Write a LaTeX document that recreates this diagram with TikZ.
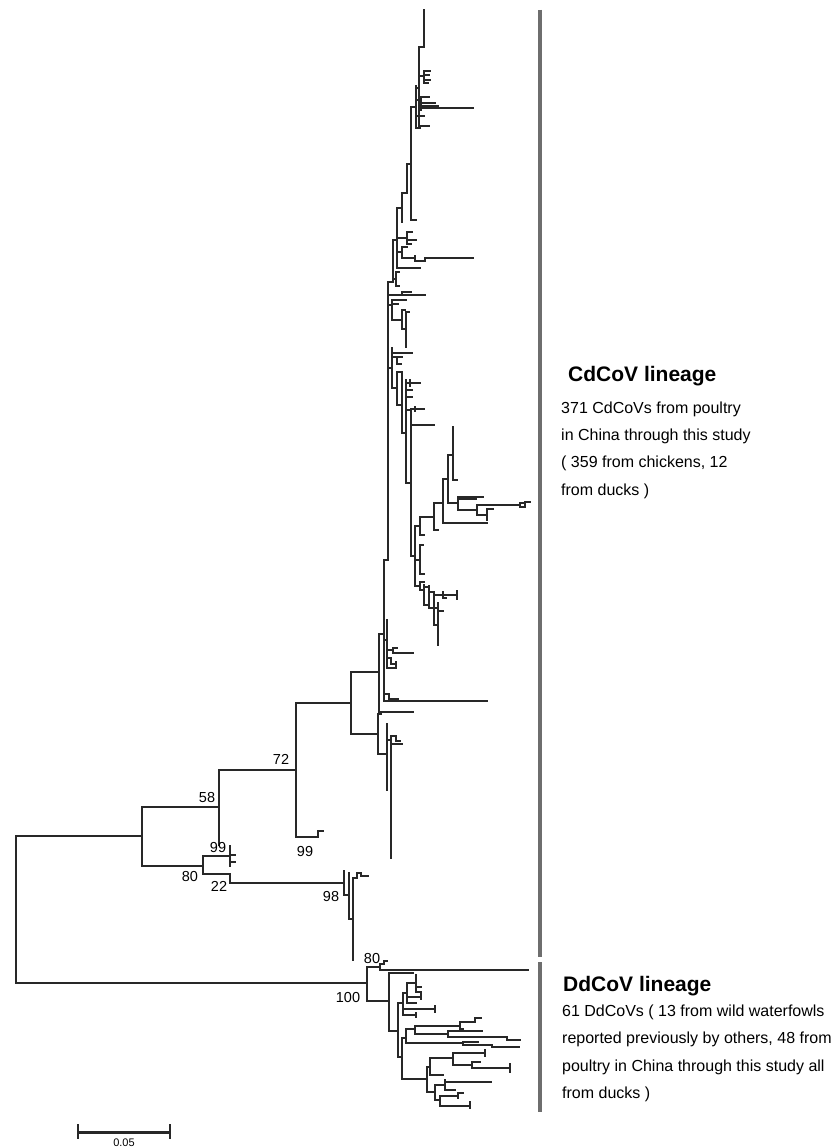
\documentclass[tikz,border=0pt]{standalone}
\usepackage{fontspec}
\setmainfont{Liberation Sans}
\definecolor{treec}{RGB}{40,40,40}
\definecolor{barc}{RGB}{110,110,110}
\newcommand\hv[3]{\draw[tr] (#1,#3) -- (#2,#3);}
\newcommand\vv[3]{\draw[tr] (#1,#2) -- (#1,#3);}
\begin{document}
\begin{tikzpicture}[x=1pt,y=-1pt,
  tr/.style={line width=1.2pt, draw=treec, line cap=rect},
  bar/.style={line width=3.6pt, draw=barc},
  boot/.style={font=\fontsize{14.5}{16}\selectfont, inner sep=0pt, text=black},
  head/.style={font=\bfseries\fontsize{21}{24}\selectfont, anchor=base west, inner sep=0pt},
  body/.style={font=\fontsize{16}{18}\selectfont, anchor=base west, inner sep=0pt}]
\useasboundingbox[fill=white] (0,0) rectangle (832,1148);
% ---------- backbone ----------
\vv{16}{836}{983}
\hv{16}{142}{836}
\vv{142}{807}{866}
\hv{142}{219}{807}
\vv{219}{770}{845}
\hv{219}{296}{770}
\vv{296}{703}{837}
\hv{296}{318}{837}
\vv{318}{831}{837}
\hv{318}{323}{831}
\hv{296}{351}{703}
\vv{351}{672}{734}
\hv{351}{379}{672}
\hv{351}{378}{734}
% 80 / 22 / 98
\hv{142}{203}{866}
\vv{203}{856}{874}
\hv{203}{230}{856}
\vv{230}{846}{866}
\hv{230}{235}{855}
\hv{230}{235}{862}
\hv{203}{230}{874}
\vv{230}{874}{883}
\hv{230}{344}{883}
\vv{344}{871}{895}
\hv{344}{349}{895}
\vv{349}{873}{919}
\hv{349}{353}{919}
\vv{353}{878}{960}
\hv{353}{357}{878}
\vv{357}{873}{878}
\hv{357}{361}{873}
\vv{361}{873}{876}
\hv{361}{368}{876}
% lower branch of CdCoV
\vv{378}{714}{754}
\hv{378}{381}{714}
\hv{378}{387}{754}
\vv{387}{724}{790}
\hv{387}{391}{740}
\vv{391}{736}{858}
\hv{391}{396}{736}
\hv{391}{402}{744}
\vv{396}{736}{741}
\hv{396}{400}{741}
% main CdCoV
\vv{379}{634}{712}
\hv{379}{413}{712}
\hv{379}{384}{634}
\vv{384}{560}{701}
\hv{384}{487}{701}
\hv{384}{389}{694}
\vv{389}{694}{699}
\hv{389}{398}{699}
\vv{387}{620}{668}
\hv{384}{387}{640}
\hv{387}{393}{650}
\vv{393}{648}{653}
\hv{393}{413}{653}
\hv{393}{397}{648}
\hv{387}{391}{658}
\vv{391}{658}{664}
\hv{391}{396}{664}
\vv{396}{662}{666}
\hv{387}{396}{668}
\hv{384}{388}{560}
\vv{388}{282}{560}
% top part
\vv{424}{10}{47}
\hv{419}{424}{47}
\vv{419}{47}{127}
\hv{419}{429}{126}
\hv{419}{424}{76}
\vv{424}{71}{83}
\hv{424}{430}{71}
\hv{424}{429}{75}
\hv{424}{430}{80}
\hv{424}{428}{83}
\hv{416}{419}{88}
\vv{416}{86}{128}
\hv{416}{421}{100}
\vv{421}{97}{110}
\hv{421}{429}{97}
\hv{421}{435}{103}
\hv{421}{438}{106}
\hv{421}{473}{108}
\hv{416}{424}{116}
\hv{416}{420}{128}
\hv{411}{416}{107}
\vv{411}{107}{220}
\hv{411}{416}{220}
\hv{407}{411}{164}
\vv{407}{164}{193}
\hv{402}{407}{193}
\vv{402}{193}{222}
\hv{397}{402}{208}
\vv{397}{208}{268}
\hv{397}{407}{238}
\vv{407}{232}{244}
\hv{407}{412}{232}
\hv{407}{416}{240}
\hv{407}{411}{244}
\hv{397}{402}{252}
\vv{402}{247}{258}
\hv{402}{407}{247}
\hv{402}{415}{258}
\vv{415}{256}{261}
\hv{415}{425}{261}
\vv{425}{258}{261}
\hv{425}{473}{258}
\hv{397}{420}{268}
\hv{393}{397}{240}
\vv{393}{240}{282}
\vv{396}{272}{286}
\hv{393}{396}{279}
\hv{396}{399}{272}
\hv{396}{399}{286}
\hv{388}{393}{282}
\hv{388}{425}{295}
\vv{402}{292}{295}
\hv{402}{411}{292}
\hv{388}{392}{305}
\vv{392}{300}{320}
\hv{392}{406}{300}
\hv{392}{398}{304}
\hv{392}{402}{320}
\vv{402}{310}{329}
\hv{402}{405}{310}
\hv{402}{406}{329}
\vv{406}{312}{347}
\hv{406}{409}{312}
\hv{388}{392}{368}
\vv{392}{348}{388}
\hv{392}{412}{353}
\hv{392}{402}{357}
\vv{397}{357}{364}
\hv{397}{401}{364}
\hv{392}{397}{388}
\vv{397}{372}{405}
\hv{397}{402}{372}
\hv{397}{400}{405}
\vv{402}{372}{433}
\hv{402}{406}{433}
\vv{406}{380}{483}
\hv{406}{410}{383}
\vv{410}{380}{386}
\hv{410}{420}{383}
\hv{406}{412}{390}
\hv{406}{412}{397}
\hv{406}{411}{410}
\vv{411}{410}{555}
\hv{406}{411}{483}
\hv{411}{415}{409}
\vv{415}{407}{411}
\hv{415}{424}{409}
\hv{411}{434}{425}
% clade around 450-530
\vv{453}{427}{480}
\hv{453}{457}{480}
\hv{448}{453}{455}
\vv{448}{455}{503}
\hv{448}{458}{503}
\vv{458}{497}{510}
\hv{458}{483}{497}
\hv{458}{476}{499}
\hv{458}{477}{510}
\vv{477}{505}{515}
\hv{477}{520}{505}
\vv{520}{503}{507}
\hv{520}{525}{503}
\vv{525}{502}{505}
\hv{525}{530}{502}
\hv{520}{525}{507}
\hv{477}{487}{515}
\vv{487}{509}{520}
\hv{487}{493}{509}
\hv{443}{448}{479}
\vv{443}{479}{523}
\hv{443}{487}{523}
\hv{434}{443}{503}
\vv{434}{503}{530}
\hv{434}{438}{530}
\hv{420}{434}{517}
\vv{420}{517}{535}
\hv{420}{424}{535}
\hv{415}{420}{526}
\vv{415}{526}{586}
\hv{411}{415}{556}
\hv{415}{420}{560}
\vv{420}{545}{574}
\hv{420}{423}{545}
\hv{420}{424}{574}
% lower cluster
\hv{415}{420}{586}
\vv{420}{582}{590}
\hv{420}{424}{582}
\hv{420}{424}{590}
\vv{424}{585}{605}
\hv{424}{429}{587}
\vv{429}{586}{608}
\hv{429}{434}{592}
\vv{434}{592}{625}
\hv{434}{443}{595}
\vv{443}{592}{598}
\hv{443}{457}{595}
\vv{457}{591}{599}
\hv{443}{446}{598}
\hv{429}{438}{608}
\vv{438}{603}{645}
\hv{438}{443}{611}
\hv{424}{427}{605}
\hv{434}{436}{625}
% ---------- DdCoV ----------
\hv{16}{367}{983}
\vv{367}{967}{1001}
\hv{367}{380}{967}
\vv{380}{964}{970}
\hv{380}{384}{964}
\vv{384}{961}{964}
\hv{384}{387}{961}
\hv{380}{528}{970}
\hv{367}{389}{1001}
\vv{389}{973}{1031}
\hv{389}{413}{973}
\hv{389}{398}{1031}
\vv{398}{1003}{1057}
\hv{398}{403}{1003}
\vv{403}{993}{1015}
\hv{403}{407}{993}
\vv{407}{983}{1003}
\hv{407}{416}{983}
\vv{416}{975}{992}
\hv{416}{421}{987}
\hv{416}{421}{992}
\hv{407}{421}{997}
\vv{421}{994}{999}
\hv{407}{416}{1003}
\hv{403}{435}{1009}
\vv{435}{1006}{1012}
\hv{403}{416}{1015}
\vv{416}{1013}{1017}
\hv{398}{402}{1057}
\vv{402}{1038}{1079}
\hv{402}{406}{1038}
\vv{406}{1029}{1043}
\hv{406}{415}{1029}
\vv{415}{1026}{1034}
\hv{415}{460}{1026}
\vv{460}{1022}{1029}
\hv{460}{475}{1022}
\vv{475}{1018}{1022}
\hv{475}{481}{1018}
\hv{460}{463}{1029}
\hv{415}{448}{1034}
\vv{448}{1031}{1037}
\hv{448}{482}{1031}
\hv{448}{507}{1037}
\vv{507}{1037}{1040}
\hv{507}{520}{1040}
\hv{406}{463}{1043}
\vv{463}{1042}{1045}
\hv{463}{478}{1042}
\hv{463}{492}{1045}
\vv{492}{1045}{1047}
\hv{492}{519}{1047}
\hv{402}{427}{1079}
\vv{427}{1067}{1092}
\hv{427}{430}{1067}
\vv{430}{1058}{1075}
\hv{430}{453}{1058}
\vv{453}{1053}{1065}
\hv{453}{485}{1053}
\vv{485}{1050}{1056}
\hv{453}{472}{1065}
\vv{472}{1062}{1068}
\hv{472}{480}{1062}
\hv{472}{510}{1068}
\vv{510}{1064}{1072}
\hv{430}{443}{1075}
\hv{427}{435}{1092}
\vv{435}{1085}{1100}
\hv{435}{445}{1085}
\vv{445}{1080}{1090}
\hv{445}{491}{1082}
\hv{445}{455}{1090}
\hv{435}{440}{1100}
\vv{440}{1096}{1106}
\hv{440}{458}{1096}
\vv{458}{1093}{1098}
\hv{458}{463}{1093}
\hv{440}{470}{1106}
\vv{470}{1102}{1108}
% ---------- lineage bars ----------
\coordinate (cTop) at (540,10);
\coordinate (cBot) at (540,957);
\coordinate (dTop) at (540,962);
\coordinate (dBot) at (540,1112);
\draw[bar] (cTop) -- (cBot);
\draw[bar] (dTop) -- (dBot);
% ---------- bootstrap labels ----------
\node[boot] (b72) at (281,759) {72};
\node[boot] (b58) at (207,797) {58};
\node[boot] (b99a) at (218,847) {99};
\node[boot] (b80a) at (190,876) {80};
\node[boot] (b22) at (219,886) {22};
\node[boot] (b99b) at (305,851) {99};
\node[boot] (b98) at (331,896) {98};
\node[boot] (b80b) at (372,958) {80};
\node[boot] (b100) at (348,997) {100};
% ---------- lineage texts ----------
\node[head] (ch) at (568,381) {CdCoV lineage};
\node[body] (c1) at (561,413) {371 CdCoVs from poultry};
\node[body] (c2) at (561,440) {in China through this study};
\node[body] (c3) at (561,467.5) {( 359 from chickens, 12};
\node[body] (c4) at (561,495) {from ducks )};
\node[head] (dh) at (563,991) {DdCoV lineage};
\node[body] (d1) at (562,1016) {61 DdCoVs ( 13 from wild waterfowls};
\node[body] (d2) at (562,1043.5) {reported previously by others, 48 from};
\node[body] (d3) at (562,1071) {poultry in China through this study all};
\node[body] (d4) at (562,1098.5) {from ducks )};
% ---------- scale bar ----------
\coordinate (sL) at (78,1132);
\coordinate (sR) at (170,1132);
\draw[line width=3pt, draw=treec] (sL) -- (sR);
\draw[line width=2.6pt, draw=treec] (78,1124) -- (78,1139);
\draw[line width=2.6pt, draw=treec] (170,1124) -- (170,1139);
\node[font=\fontsize{11}{12}\selectfont, inner sep=0pt] (sl) at (124,1143) {0.05};
\end{tikzpicture}
\end{document}
